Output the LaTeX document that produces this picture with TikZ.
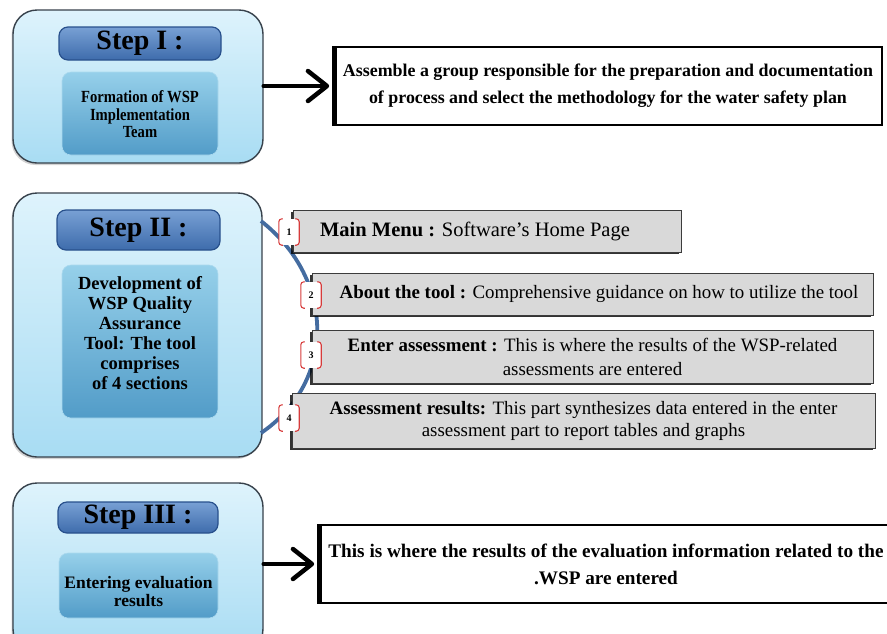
\documentclass[tikz,border=0pt]{standalone}
\usepackage{fontspec}
\setmainfont{Liberation Serif}
\newfontfamily\condserif[FakeStretch=0.86]{Liberation Serif}
\usetikzlibrary{arrows.meta,shadows}
\definecolor{outerTop}{RGB}{222,243,252}
\definecolor{outerBot}{RGB}{168,220,243}
\definecolor{outerLine}{RGB}{55,65,75}
\definecolor{titleTop}{RGB}{120,160,212}
\definecolor{titleBot}{RGB}{62,108,172}
\definecolor{titleLine}{RGB}{40,80,140}
\definecolor{contTop}{RGB}{150,208,234}
\definecolor{contBot}{RGB}{82,156,200}
\definecolor{secFill}{RGB}{217,217,217}
\definecolor{secLine}{RGB}{60,60,60}
\definecolor{curveBlue}{RGB}{68,108,160}
\definecolor{markRed}{RGB}{215,60,60}
\begin{document}
\begin{tikzpicture}[x=1pt,y=-1pt,
  outerbox/.style={draw=outerLine,line width=1.4pt,rounded corners=24pt,
    top color=outerTop,bottom color=outerBot,
    drop shadow={shadow xshift=-1.5pt,shadow yshift=-2pt,opacity=0.35}},
  titlebox/.style={draw=titleLine,line width=1.2pt,rounded corners=9pt,
    top color=titleTop,bottom color=titleBot,
    font=\fontsize{28}{30}\selectfont\bfseries,inner sep=0pt},
  contbox/.style={rounded corners=9pt,top color=contTop,bottom color=contBot,
    draw=contTop!80!white,line width=0.6pt,inner sep=0pt},
  conttext/.style={align=center,inner sep=0pt},
  rightbox/.style={draw=black,line width=1.6pt,fill=white,
    font=\fontsize{17.9}{27}\selectfont\bfseries,align=center,inner sep=0pt},
  secbox/.style={draw=secLine,line width=1pt,fill=secFill,
    font=\fontsize{18.9}{23}\selectfont,align=center,inner sep=0pt,
    drop shadow={shadow xshift=-1.6pt,shadow yshift=-1.6pt,opacity=0.8,fill=black}},
  markbox/.style={fill=white,minimum width=20pt,minimum height=26pt,inner sep=0pt,
    font=\fontsize{10}{12}\selectfont\bfseries},
  bracket/.style={draw=markRed,line width=1.1pt,rounded corners=3pt},
  arr/.style={line width=4.5pt,line cap=round,
    -{Straight Barb[length=19pt,width=30pt,line width=4.5pt,round]}},
  curve/.style={draw=curveBlue,line width=3.8pt}
]
\useasboundingbox (0,0) rectangle (887,633);

% ---------- Step I ----------
\node[outerbox,minimum width=250pt,minimum height=153pt] (outer1) at (138,86.5) {};
\node[titlebox,minimum width=162pt,minimum height=33pt] (title1) at (140,43.5) {Step I :};
\node[contbox,minimum width=156pt,minimum height=83pt] (cont1) at (140,113.5) {};
\node[conttext,font=\condserif\fontsize{17}{17.5}\selectfont\bfseries] (cont1t) at ([yshift=-1pt]cont1.center)
  {Formation of WSP\\Implementation\\Team};
\node[rightbox,minimum width=548pt,minimum height=78pt] (right1) at (608,86)
  {Assemble a group responsible for the preparation and documentation\\
   of process and select the methodology for the water safety plan};
\draw[line width=5pt] ([xshift=1.5pt]right1.north west) -- ([xshift=1.5pt]right1.south west);
\draw[arr] (outer1.east |- right1.west) -- ([xshift=-4pt]right1.west);

% ---------- Step II ----------
\node[outerbox,minimum width=249pt,minimum height=264pt] (outer2) at (137.5,325) {};
\node[titlebox,minimum width=163pt,minimum height=40pt] (title2) at (138.5,230) {Step II :};
\node[contbox,minimum width=156pt,minimum height=153pt] (cont2) at (140,341.5) {};
\node[conttext,font=\fontsize{18.5}{20}\selectfont\bfseries] (cont2t) at ([yshift=8pt]cont2.center)
  {Development of\\WSP Quality\\Assurance\\Tool: The tool\\comprises\\of 4 sections};

\coordinate (cs) at (261,221);
\coordinate (ce) at (261,433);
\draw[curve] (cs) .. controls (336,280) and (336,382) .. (ce);

\node[secbox,font=\fontsize{20.5}{23}\selectfont,minimum width=388pt,minimum height=42pt] (s1) at (487,231)
  {\hspace*{-24pt}\textbf{Main Menu :} Software’s Home Page};
\node[secbox,minimum width=561pt,minimum height=42pt] (s2) at (592.5,294)
  {\hspace*{13pt}\textbf{About the tool :} Comprehensive guidance on how to utilize the tool};
\node[secbox,font=\fontsize{18.9}{24}\selectfont,minimum width=561pt,minimum height=53pt] (s3) at (592.5,356.5)
  {\textbf{Enter assessment :} This is where the results of the WSP-related\\assessments are entered};
\node[secbox,font=\fontsize{18.9}{22}\selectfont,minimum width=583pt,minimum height=55pt] (s4) at (583.5,420.5)
  {\textbf{Assessment results:} This part synthesizes data entered in the enter\\assessment part to report tables and graphs};

\foreach \n/\x/\y in {1/289/232,2/311/295,3/311/355,4/289/418}{
  \node[markbox] (m\n) at (\x,\y) {\n};
  \draw[bracket] ([xshift=4pt]m\n.north west) -- (m\n.north west) -- (m\n.south west) -- ([xshift=4pt]m\n.south west);
  \draw[bracket] ([xshift=-4pt]m\n.north east) -- (m\n.north east) -- (m\n.south east) -- ([xshift=-4pt]m\n.south east);
}

% ---------- Step III ----------
\node[outerbox,minimum width=250pt,minimum height=170pt] (outer3) at (138,568) {};
\node[titlebox,minimum width=160pt,minimum height=31pt] (title3) at (138,517.5) {Step III :};
\node[contbox,minimum width=159pt,minimum height=65pt] (cont3) at (138.5,585.5) {};
\node[conttext,font=\fontsize{17.5}{17.5}\selectfont\bfseries] (cont3t) at ([yshift=-6pt]cont3.center)
  {Entering evaluation\\results};
\node[rightbox,font=\fontsize{19.2}{27}\selectfont\bfseries,minimum width=574pt,minimum height=78pt] (right3) at (606,564)
  {This is where the results of the evaluation information related to the\\.WSP are entered};
\draw[line width=5pt] ([xshift=1.5pt]right3.north west) -- ([xshift=1.5pt]right3.south west);
\draw[arr] (outer3.east |- right3.west) -- ([xshift=-4pt]right3.west);
\end{tikzpicture}
\end{document}
